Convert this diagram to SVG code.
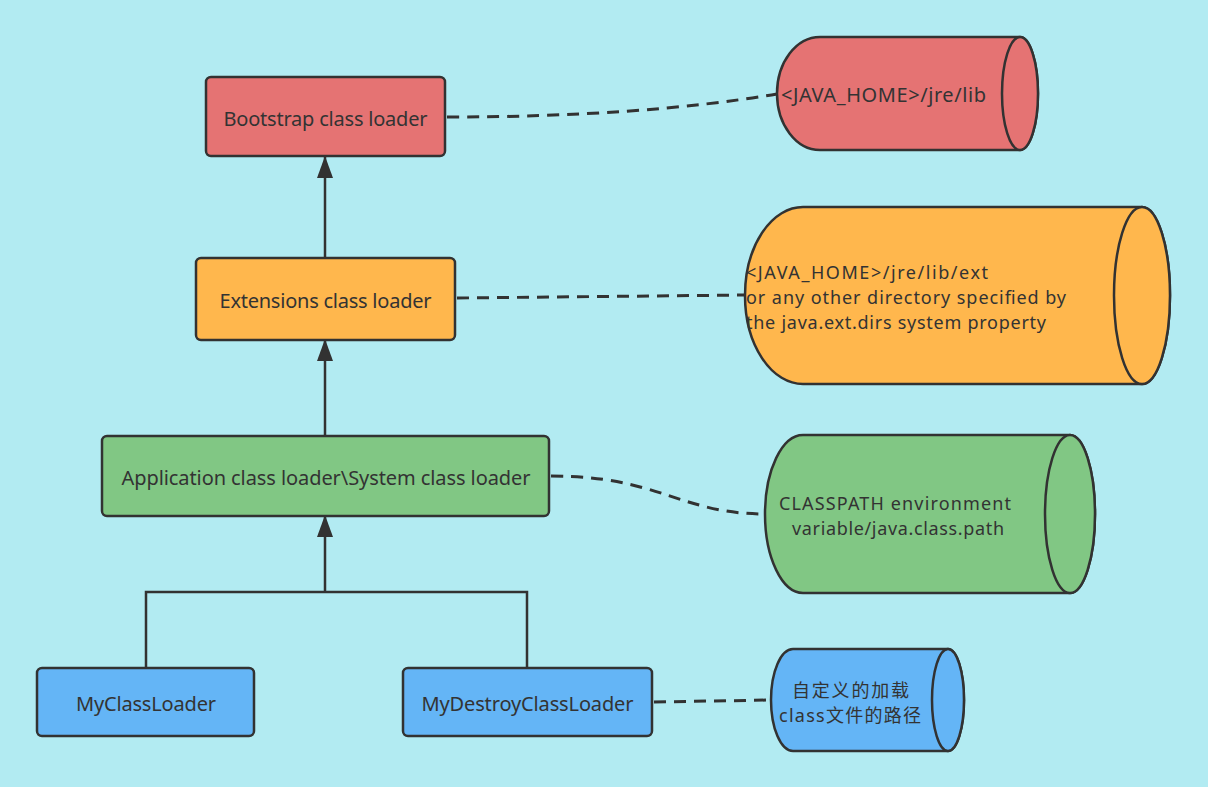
<svg xmlns="http://www.w3.org/2000/svg" width="1208" height="787" viewBox="0 0 1208 787">
<defs>
<marker id="arr" viewBox="0 0 22 16" refX="21" refY="8" markerWidth="22" markerHeight="16" markerUnits="userSpaceOnUse" orient="auto">
<path d="M0 0 L22 8 L0 16 Z" fill="#323232"/>
</marker>
<style>
.box{stroke:#323232;stroke-width:2.5}
.cyl{stroke:#323232;stroke-width:2.5}
.t{font-family:"Noto Sans","Noto Sans CJK SC",sans-serif;font-size:20px;fill:#333}
.m{font-size:18px}
.edge{fill:none;stroke:#323232;stroke-width:2.5}
.dash{fill:none;stroke:#323232;stroke-width:3;stroke-dasharray:12 8}
</style>
</defs>
<rect width="1208" height="787" fill="#B2EBF2"/>
<g id="connectors">
<path class="edge" d="M325 257 L325 157" marker-end="url(#arr)"/>
<path class="edge" d="M325 436 L325 340" marker-end="url(#arr)"/>
<path class="edge" d="M146 668 L146 592 L527 592 L527 668 M325 592 L325 516" marker-end="url(#arr)"/>
<path class="dash" d="M447 117 Q640 117 777 94"/>
<path class="dash" d="M457 298 L745 295"/>
<path class="dash" d="M551 476 C660 476 680 514 765 514"/>
<path class="dash" d="M654 702 L771 700"/>
</g>
<g id="bootstrap">
<rect class="box" x="206" y="77" width="239" height="79" rx="5" fill="#E57373"/>
<text class="t" x="325.5" y="126" text-anchor="middle" textLength="204">Bootstrap class loader</text>
</g>
<g id="extensions">
<rect class="box" x="196" y="258" width="259" height="82" rx="5" fill="#FFB74D"/>
<text class="t" x="325.5" y="308" text-anchor="middle" textLength="212">Extensions class loader</text>
</g>
<g id="application">
<rect class="box" x="102" y="436" width="447" height="80" rx="5" fill="#81C784"/>
<text class="t" x="326" y="485" text-anchor="middle" textLength="409">Application class loader\System class loader</text>
</g>
<g id="myclassloader">
<rect class="box" x="37" y="668" width="217" height="68" rx="5" fill="#64B5F6"/>
<text class="t" x="146" y="711" text-anchor="middle" textLength="140">MyClassLoader</text>
</g>
<g id="mydestroyclassloader">
<rect class="box" x="403" y="668" width="249" height="68" rx="5" fill="#64B5F6"/>
<text class="t" x="527.5" y="711" text-anchor="middle" textLength="212">MyDestroyClassLoader</text>
</g>
<g id="cyl-jre-lib">
<path class="cyl" fill="#E57373" d="M820 37 L1020 37 A18 56.5 0 0 1 1020 150 L820 150 A43 56.5 0 0 1 820 37 Z"/>
<ellipse class="cyl" fill="#E57373" cx="1020" cy="93.5" rx="18" ry="56.5"/>
<text class="t" x="781" y="102" textLength="205">&lt;JAVA_HOME&gt;/jre/lib</text>
</g>
<g id="cyl-ext">
<path class="cyl" fill="#FFB74D" d="M803 207 L1142 207 A28 88.5 0 0 1 1142 384 L803 384 A58 88.5 0 0 1 803 207 Z"/>
<ellipse class="cyl" fill="#FFB74D" cx="1142" cy="295.5" rx="28" ry="88.5"/>
<text class="t m" x="746" y="279" textLength="242">&lt;JAVA_HOME&gt;/jre/lib/ext</text>
<text class="t m" x="746" y="304" textLength="320">or any other directory specified by</text>
<text class="t m" x="746" y="329" textLength="300">the java.ext.dirs system property</text>
</g>
<g id="cyl-classpath">
<path class="cyl" fill="#81C784" d="M803 435 L1070 435 A25 79 0 0 1 1070 593 L803 593 A38 79 0 0 1 803 435 Z"/>
<ellipse class="cyl" fill="#81C784" cx="1070" cy="514" rx="25" ry="79"/>
<text class="t m" x="779" y="510" textLength="232">CLASSPATH environment</text>
<text class="t m" x="792" y="535" textLength="212">variable/java.class.path</text>
</g>
<g id="cyl-custom">
<path class="cyl" fill="#64B5F6" d="M793 649 L948 649 A16 51 0 0 1 948 751 L793 751 A22 51 0 0 1 793 649 Z"/>
<ellipse class="cyl" fill="#64B5F6" cx="948" cy="700" rx="16" ry="51"/>
<text class="t m" x="792" y="697" textLength="117">自定义的加载</text>
<text class="t m" x="779" y="722" textLength="142">class文件的路径</text>
</g>
</svg>
